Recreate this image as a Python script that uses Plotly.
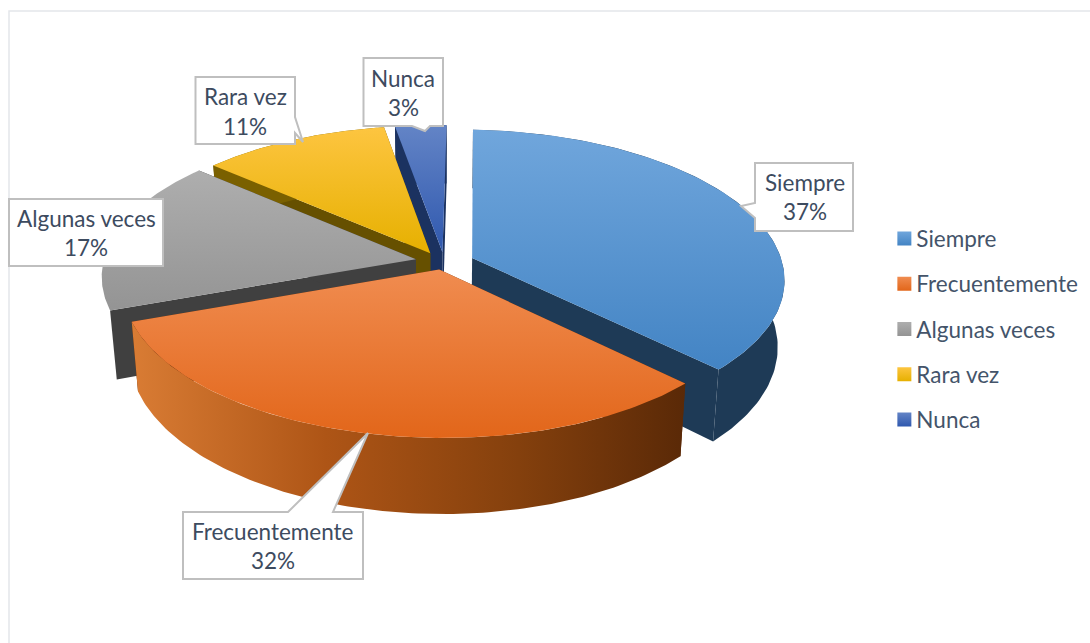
import numpy as np
import plotly.graph_objects as go

# ---- data ----
categories = ["Siempre", "Frecuentemente", "Algunas veces", "Rara vez", "Nunca"]
values = [37, 32, 17, 11, 3]

# ---- styles ----
top_colors = [
    ["#70A6DC", "#4384C4"],
    ["#F08C50", "#E2661A"],
    ["#AEAEAE", "#949494"],
    ["#FDC540", "#E6B000"],
    ["#6384C6", "#2F58AE"],
]
cut_colors = ["#1E3A56", "#5E2A08", "#404040", "#665000", "#1B3260"]
wall_scales = [
    [[0, "#1E3A56"], [1, "#1E3A56"]],
    [[0, "#D97C34"], [0.35, "#AE5516"], [0.7, "#84400D"], [1, "#5A2907"]],
    None,
    [[0, "#7A6000"], [1, "#7A6000"]],
    [[0, "#1B3260"], [1, "#1B3260"]],
]
draw_order = [4, 3, 2, 0, 1]
CX, CY, RX, RY, K, EX, EY, H, SHRINK = 445, 261, 311, 145, 0.125, 0.095, 0.06, 66, 0.98
ROLL, SKEW = 0.015, 0.03
TEXT = "#3D4B5F"
FONT = "Lato"
SIZE = 22.5

# ---- geometry derived from the values ----
fractions = np.array(values, dtype=float) / sum(values)
edges = np.concatenate([[0], np.cumsum(fractions)]) * 2 * np.pi


def project(x, y, bottom=False):
    s = 1 / (1 + K * y)
    px = RX * x * s
    py = -RY * y * s
    px, py = px - SKEW * py, py + ROLL * px
    if bottom:
        px = px * SHRINK
        py = py + H * s
    return CX + px, CY + py


def slice_polys(i):
    a0, a1 = edges[i], edges[i + 1]
    mid = (a0 + a1) / 2
    ox, oy = EX * np.sin(mid), EY * np.cos(mid)
    t = np.linspace(a0, a1, 120)
    rx_, ry_ = ox + np.sin(t), oy + np.cos(t)
    top = project(rx_, ry_)
    bot = project(rx_, ry_, True)
    apex_t = project(np.array([ox]), np.array([oy]))
    apex_b = project(np.array([ox]), np.array([oy]), True)
    top_poly = (np.r_[apex_t[0], top[0], apex_t[0]], np.r_[apex_t[1], top[1], apex_t[1]])
    wall = (np.r_[top[0], bot[0][::-1], top[0][0]], np.r_[top[1], bot[1][::-1], top[1][0]])
    cuts = []
    for j in (0, -1):
        cuts.append((
            [apex_t[0][0], top[0][j], bot[0][j], apex_b[0][0], apex_t[0][0]],
            [apex_t[1][0], top[1][j], bot[1][j], apex_b[1][0], apex_t[1][0]],
        ))
    return top_poly, wall, cuts


fig = go.Figure()
for i in draw_order:
    top_poly, wall, cuts = slice_polys(i)
    for c in cuts:
        fig.add_trace(go.Scatter(x=c[0], y=c[1], mode="lines", fill="toself", fillcolor=cut_colors[i],
                                 line=dict(width=0), showlegend=False, hoverinfo="skip"))
    if wall_scales[i] is not None:
        fig.add_trace(go.Scatter(x=wall[0], y=wall[1], mode="lines", fill="toself",
                                 fillgradient=dict(type="horizontal", colorscale=wall_scales[i]),
                                 line=dict(width=0), showlegend=False, hoverinfo="skip"))
    fig.add_trace(go.Scatter(x=top_poly[0], y=top_poly[1], mode="lines", fill="toself",
                             fillgradient=dict(type="vertical",
                                               colorscale=[[0, top_colors[i][1]], [1, top_colors[i][0]]]),
                             line=dict(width=0), showlegend=False, hoverinfo="skip"))

# legend entries
for i, name in enumerate(categories):
    fig.add_trace(go.Scatter(x=[None], y=[None], mode="markers", name=name, legendgroup=name,
                             marker=dict(symbol="square", size=14, color=top_colors[i][0],
                                         gradient=dict(type="vertical", color=top_colors[i][1]))))

# callouts
callouts = {
    "Siempre": "M755,163 L853,163 L853,231 L755,231 L755,218 L741,206 L755,203 Z",
    "Frecuentemente": "M183,512 L288,512 L368,433 L333,512 L363,512 L363,579 L183,579 Z",
    "Algunas veces": "M9,199 L163,199 L163,266 L9,266 Z",
    "Rara vez": "M195.5,77 L295,77 L295,117 L303,142 L295,133 L295,144 L195.5,144 Z",
    "Nunca": "M363.5,58 L443,58 L443,126 L430,126 L425,131 L412,126 L363.5,126 Z",
}
label_pos = {
    "Siempre": (805, 182, 211),
    "Frecuentemente": (273, 531, 560),
    "Algunas veces": (86, 218, 247),
    "Rara vez": (245, 96, 126),
    "Nunca": (403, 78, 107),
}
shapes = [dict(type="path", xref="x", yref="y", path="M9,650 L9,11 L1100,11",
               line=dict(color="#E4E6EA", width=1.5), layer="below")]
annotations = []
for name, val in zip(categories, values):
    shapes.append(dict(type="path", xref="x", yref="y", path=callouts[name], fillcolor="white",
                       line=dict(color="#BFBFBF", width=2), layer="above"))
    x, y1, y2 = label_pos[name]
    for txt, yy in ((name, y1), (f"{val}%", y2)):
        annotations.append(dict(x=x, y=yy, xref="x", yref="y", text=txt, showarrow=False,
                                font=dict(family=FONT, size=SIZE, color=TEXT)))

fig.update_layout(
    width=1090, height=643, autosize=False,
    margin=dict(l=0, r=0, t=0, b=0),
    paper_bgcolor="white", plot_bgcolor="white",
    xaxis=dict(range=[0, 1090], visible=False, fixedrange=True),
    yaxis=dict(range=[643, 0], visible=False, fixedrange=True),
    legend=dict(x=0.804, y=0.662, xanchor="left", yanchor="top", tracegroupgap=13,
                font=dict(family=FONT, size=SIZE, color="#44546A"), bgcolor="rgba(0,0,0,0)"),
    shapes=shapes, annotations=annotations,
)
fig.write_html("out.html", config={"displayModeBar": False},
               post_script="document.body.style.margin='0';"
                           "document.querySelectorAll('.legendsymbols').forEach(function(g){g.setAttribute('transform','translate(8,0)');});")
